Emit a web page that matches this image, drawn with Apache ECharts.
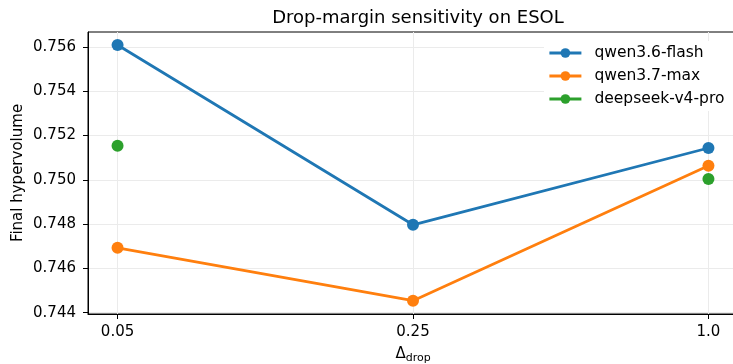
<!DOCTYPE html>
<html>
<head>
<meta charset="utf-8">
<script src="https://cdn.jsdelivr.net/npm/echarts@6/dist/echarts.min.js"></script>
<style>
html, body { margin: 0; padding: 0; background: #fff; }
#chart { width: 733px; height: 364px; }
</style>
</head>
<body>
<div id="chart"></div>
<script>
// drop margins (x categories)
var dropLabels = ['0.05', '0.25', '1.0'];
var yTicks = [0.744, 0.746, 0.748, 0.750, 0.752, 0.754, 0.756];

// final hypervolume per model
var flashVals = [0.75609, 0.74797, 0.75144];
var maxVals = [0.74693, 0.74454, 0.75064];
var deepseekVals = [0.75154, null, 0.75004];

var font = 'DejaVu Sans';

function toPoints(vals) {
    return vals.map(function (v, i) { return [i, v]; });
}

var chart = echarts.init(document.getElementById('chart'));

function lineSeries(name, vals, color) {
    return {
        name: name,
        type: 'line',
        data: toPoints(vals),
        symbol: 'circle',
        symbolSize: 12,
        connectNulls: false,
        lineStyle: {color: color, width: 2.8},
        itemStyle: {color: color},
        emphasis: {disabled: true}
    };
}

var option = {
    animation: false,
    title: {
        text: 'Drop-margin sensitivity on ESOL',
        left: 413,
        top: 4,
        textAlign: 'center',
        textStyle: {fontFamily: font, fontSize: 18, fontWeight: 'normal', color: '#000'}
    },
    legend: {
        orient: 'vertical',
        left: 544,
        top: 41,
        itemWidth: 32,
        itemHeight: 12,
        itemGap: 7,
        backgroundColor: '#fff',
        padding: [4, 10, 4, 4],
        lineStyle: {width: 2.8},
        textStyle: {fontFamily: font, fontSize: 15.5, color: '#000', padding: [0, 0, 0, 8]},
        data: ['qwen3.6-flash', 'qwen3.7-max', 'deepseek-v4-pro']
    },
    grid: {
        left: 88,
        top: 32,
        right: -5,
        bottom: 50,
        outerBoundsMode: 'none',
        show: true,
        borderColor: '#000',
        borderWidth: 1
    },
    xAxis: {
        type: 'value',
        min: -0.1,
        max: 2.1,
        name: '{a|Δ}{b|drop}',
        nameLocation: 'middle',
        nameGap: 31,
        nameMoveOverlap: false,
        nameTextStyle: {
            rich: {
                a: {fontFamily: font, fontSize: 15, color: '#000'},
                b: {fontFamily: font, fontSize: 11, color: '#000', padding: [8, 0, 0, 0]}
            }
        },
        axisLine: {show: true, onZero: false, lineStyle: {color: '#000'}},
        axisTick: {show: true, length: 5, customValues: [0, 1, 2], lineStyle: {color: '#000'}},
        axisLabel: {
            customValues: [0, 1, 2],
            margin: 11,
            fontFamily: font,
            fontSize: 15,
            color: '#000',
            formatter: function (v) { return dropLabels[Math.round(v)]; }
        },
        splitLine: {show: true, lineStyle: {color: '#ebebeb', width: 1}}
    },
    yAxis: {
        type: 'value',
        min: 0.74394,
        max: 0.75668,
        name: 'Final hypervolume',
        nameLocation: 'middle',
        nameGap: 62,
        nameMoveOverlap: false,
        nameTextStyle: {fontFamily: font, fontSize: 15, color: '#000'},
        axisLine: {show: true, onZero: false, lineStyle: {color: '#000'}},
        axisTick: {show: true, length: 5, customValues: yTicks, lineStyle: {color: '#000'}},
        axisLabel: {
            customValues: yTicks,
            margin: 12,
            fontFamily: font,
            fontSize: 15,
            color: '#000',
            formatter: function (v) { return v.toFixed(3); }
        },
        splitLine: {show: true, lineStyle: {color: '#ebebeb', width: 1}}
    },
    series: [
        lineSeries('qwen3.6-flash', flashVals, '#1f77b4'),
        lineSeries('qwen3.7-max', maxVals, '#ff7f0e'),
        lineSeries('deepseek-v4-pro', deepseekVals, '#2ca02c')
    ]
};

chart.setOption(option);
</script>
</body>
</html>
